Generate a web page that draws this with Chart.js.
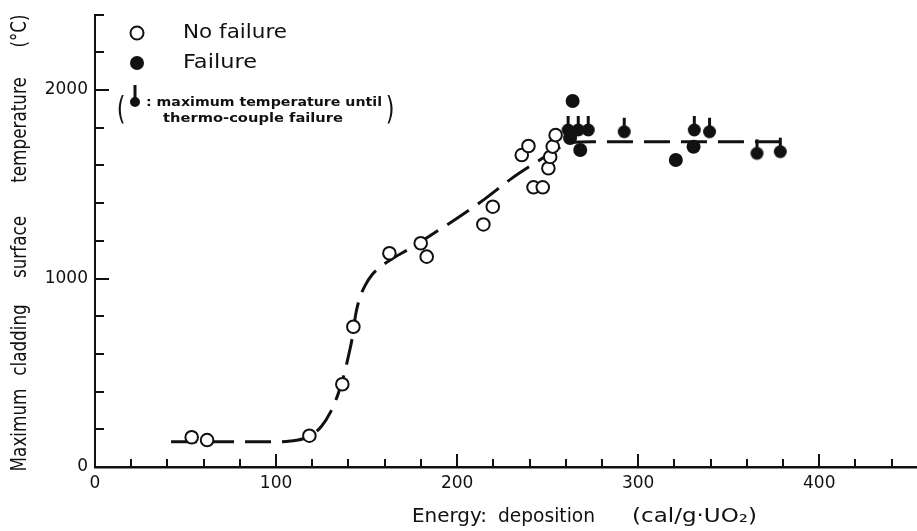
<!DOCTYPE html>
<html><head><meta charset="utf-8">
<script src="https://cdn.jsdelivr.net/npm/chart.js@4.4.0/dist/chart.umd.min.js"></script>
<style>html,body{margin:0;padding:0;background:#fff;}canvas{display:block;}</style>
</head><body>
<canvas id="c" width="917" height="531"></canvas>
<script>
// ---- data ----
const noFailureX = [53.4, 61.9, 118.4, 136.6, 142.7, 162.6, 179.9, 183.2, 214.5, 219.7, 235.7, 239.4, 242.2, 247.3, 250.4, 251.4, 252.8, 254.4];
const noFailureY = [158, 143, 166, 439, 744, 1134, 1187, 1116, 1287, 1381, 1655, 1703, 1484, 1484, 1585, 1645, 1700, 1761];
const failureX = [263.8, 262.4, 268.0, 320.8, 330.6];
const failureY = [1942, 1745, 1682, 1629, 1699];
const tcFailureX = [261.3, 266.9, 272.4, 292.3, 331.0, 339.4, 365.6, 378.5];
const tcFailureY = [1788, 1788, 1788, 1779, 1788, 1779, 1664, 1673];
const curveX = [42, 60, 80, 100, 108, 115, 120, 125, 130, 134, 137, 140, 142, 144, 146, 149, 153, 158, 165, 175, 188, 200, 215, 230, 245, 255, 262, 275, 320, 381];
const curveY = [134, 134, 134, 134, 138, 150, 172, 215, 290, 380, 470, 590, 680, 810, 890, 960, 1020, 1065, 1110, 1165, 1245, 1320, 1420, 1530, 1625, 1685, 1722, 1725, 1725, 1725];
const xTickLabels = [0, 100, 200, 300, 400];
const yTickLabels = [0, 1000, 2000];
const xTitleParts = ['Energy:', 'deposition', '(cal/g\u00B7UO\u2082)'];
const yTitleParts = ['Maximum', 'cladding', 'surface', 'temperature', '(\u00B0C)'];
const legendLabels = ['No failure', 'Failure', ': maximum temperature until', 'thermo-couple failure'];

const pts = (xs, ys) => xs.map((x, i) => ({x, y: ys[i]}));
const INK = '#111';
const FONT = '"DejaVu Sans", sans-serif';

function makeStemMarker(r, stem, w) {
  const c = document.createElement('canvas');
  const half = Math.ceil(r + stem) + 1;
  c.width = Math.ceil(2 * r) + 2; c.height = half * 2;
  const g = c.getContext('2d');
  const cx = c.width / 2, cy = half;
  g.fillStyle = INK;
  g.beginPath(); g.arc(cx, cy, r, 0, Math.PI * 2); g.fill();
  g.fillRect(cx - w / 2, cy - stem, w, stem);
  return c;
}
const stemMarker = makeStemMarker(6.5, 14, 3);

function fitText(ctx, text, x0, x1, y) {
  const w = ctx.measureText(text).width;
  const s = (x1 - x0) / w;
  ctx.save(); ctx.translate(x0, y); ctx.scale(s, 1); ctx.fillText(text, 0, 0); ctx.restore();
}
function condensedV(ctx, text, cy, x, sx) {
  ctx.save(); ctx.translate(x, cy); ctx.rotate(-Math.PI / 2); ctx.scale(sx, 1);
  ctx.textAlign = 'center'; ctx.fillText(text, 0, 0); ctx.restore();
}

const inwardTicks = {
  id: 'inwardTicks',
  afterDraw(chart) {
    const {ctx, scales: {x, y}, chartArea: a} = chart;
    ctx.save(); ctx.strokeStyle = INK; ctx.lineWidth = 2;
    x.ticks.forEach(t => {
      const v = t.value; if (v <= 0 || v % 20) return;
      const px = Math.round(x.getPixelForValue(v));
      const len = v % 100 === 0 ? 13 : 8;
      ctx.beginPath(); ctx.moveTo(px, a.bottom); ctx.lineTo(px, a.bottom - len); ctx.stroke();
    });
    y.ticks.forEach(t => {
      const v = t.value; if (v <= 0 || v % 200) return;
      const py = Math.round(y.getPixelForValue(v));
      const len = v % 1000 === 0 ? 14 : 9;
      ctx.beginPath(); ctx.moveTo(a.left, py); ctx.lineTo(a.left + len, py); ctx.stroke();
    });
    ctx.restore();
  }
};

const annotations = {
  id: 'annotations',
  afterDraw(chart) {
    const ctx = chart.ctx;
    ctx.save();
    ctx.fillStyle = INK; ctx.strokeStyle = INK;
    ctx.textBaseline = 'middle'; ctx.textAlign = 'left';
    // x title
    ctx.font = '20px ' + FONT;
    fitText(ctx, xTitleParts[0], 412, 487, 517);
    fitText(ctx, xTitleParts[1], 498, 595, 517);
    fitText(ctx, xTitleParts[2], 632, 757, 517);
    // y title (tall, condensed lettering)
    ctx.font = '21px ' + FONT;
    const yCenters = [430, 340, 247, 130, 31];
    yTitleParts.forEach((t, i) => condensedV(ctx, t, yCenters[i], 21, 0.8));
    // legend
    ctx.lineWidth = 2;
    ctx.fillStyle = '#fff';
    ctx.beginPath(); ctx.arc(137, 33, 6.5, 0, Math.PI * 2); ctx.fill(); ctx.stroke();
    ctx.fillStyle = INK;
    ctx.beginPath(); ctx.arc(137, 63, 7, 0, Math.PI * 2); ctx.fill();
    ctx.beginPath(); ctx.arc(135, 102, 5, 0, Math.PI * 2); ctx.fill();
    ctx.fillRect(133.5, 85, 3, 16);
    ctx.font = '19px ' + FONT;
    fitText(ctx, legendLabels[0], 183, 287, 33);
    fitText(ctx, legendLabels[1], 183, 257, 63);
    ctx.font = 'bold 13px ' + FONT;
    fitText(ctx, legendLabels[2], 146, 382, 103);
    fitText(ctx, legendLabels[3], 163, 343, 119);
    ctx.font = '32px ' + FONT; ctx.textAlign = 'center';
    ctx.save(); ctx.translate(121, 111); ctx.scale(0.7, 1); ctx.fillText('(', 0, 0); ctx.restore();
    ctx.save(); ctx.translate(390, 111); ctx.scale(0.7, 1); ctx.fillText(')', 0, 0); ctx.restore();
    ctx.restore();
  }
};

new Chart(document.getElementById('c'), {
  type: 'scatter',
  data: {
    datasets: [
      { label: 'No failure', data: pts(noFailureX, noFailureY), pointStyle: 'circle', pointRadius: 6.3,
        pointBorderWidth: 2, pointBackgroundColor: '#fff', pointBorderColor: INK, order: 1 },
      { label: 'Failure', data: pts(failureX, failureY), pointStyle: 'circle', pointRadius: 7,
        pointBorderWidth: 0, pointBackgroundColor: INK, pointBorderColor: INK, order: 2 },
      { label: 'Max. temperature until thermocouple failure', data: pts(tcFailureX, tcFailureY), pointStyle: stemMarker,
        order: 3 },
      { label: 'trend', type: 'line', data: pts(curveX, curveY), showLine: true, pointRadius: 0,
        borderColor: INK, borderWidth: 3, borderDash: [26, 11], cubicInterpolationMode: 'monotone', fill: false, order: 4 }
    ]
  },
  options: {
    responsive: false, animation: false, devicePixelRatio: 1,
    layout: { autoPadding: false, padding: { top: 11, right: 0, left: 0, bottom: 0 } },
    plugins: { legend: { display: false }, tooltip: { enabled: false } },
    scales: {
      x: {
        type: 'linear', min: 0, max: 454,
        afterFit: s => { s.height = 64; },
        grid: { display: true, drawOnChartArea: false, drawTicks: false },
        border: { display: true, width: 2.5, color: INK },
        ticks: { stepSize: 20, autoSkip: false, includeBounds: false, maxRotation: 0, padding: 0,
          color: INK, font: { family: 'DejaVu Sans', size: 17, lineHeight: 1.95 },
          callback: v => xTickLabels.includes(v) ? String(v) : '' }
      },
      y: {
        type: 'linear', min: 0, max: 2400,
        afterFit: s => { s.width = 95; },
        grid: { display: true, drawOnChartArea: false, drawTicks: false },
        border: { display: true, width: 2, color: INK },
        ticks: { stepSize: 200, autoSkip: false, includeBounds: false, padding: 7,
          color: INK, font: { family: 'DejaVu Sans', size: 17, lineHeight: 0.9 },
          callback: v => yTickLabels.includes(v) ? String(v) : '' }
      }
    }
  },
  plugins: [inwardTicks, annotations]
});
</script>
</body></html>
